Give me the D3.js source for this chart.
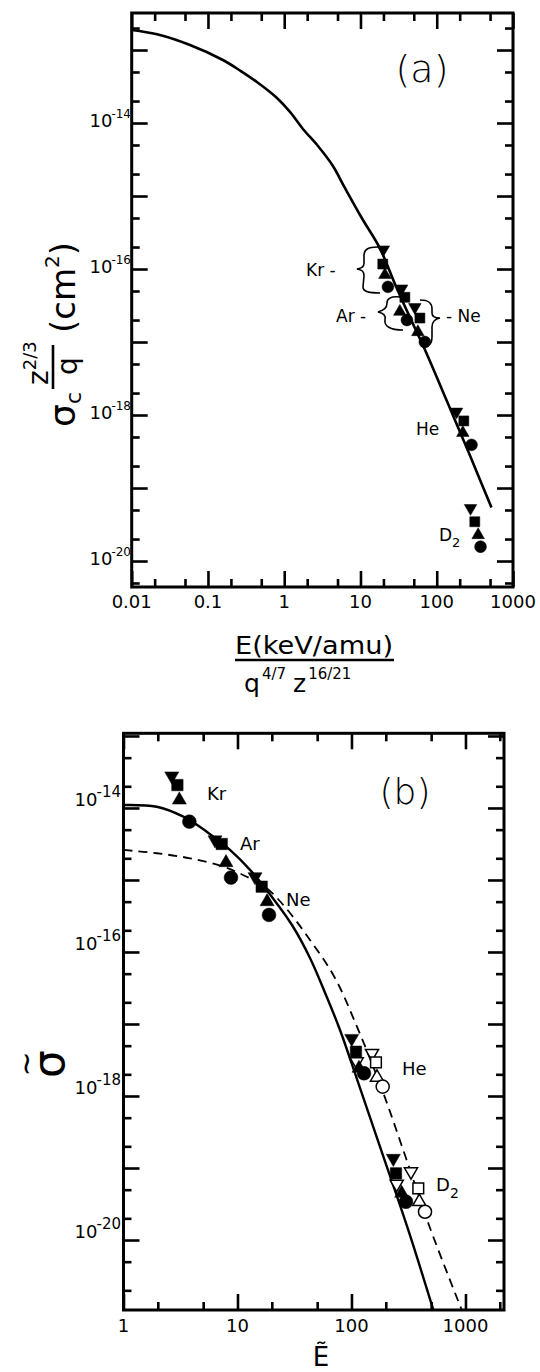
<!DOCTYPE html>
<html>
<head>
<meta charset="utf-8">
<script src="https://cdn.jsdelivr.net/npm/d3@7"></script>
<style>
  body { margin: 0; background: #fff; }
  text { font-family: "DejaVu Sans", sans-serif; fill: #000; }
</style>
</head>
<body>
<script>
//Panel (a): universal curve, reduced energy vs reduced cross section
var aCurveE = [0.01, 0.0215, 0.0581, 0.157, 0.270, 0.438, 0.778, 1.19, 1.76, 2.77, 4.35, 6.25, 10.4, 17.9, 28.2, 44.4, 69.8, 135, 272, 522];
var aCurveS = [1.88e-13, 1.64e-13, 1.17e-13, 7.3e-14, 5.15e-14, 3.65e-14, 2.27e-14, 1.42e-14, 8.28e-15, 4.84e-15, 2.58e-15, 1.29e-15, 5.0e-16, 1.94e-16, 6.3e-17, 2.19e-17, 7.9e-18, 1.58e-18, 2.8e-19, 5.4e-20];

//Panel (a) data points, one value per target gas: Kr, Ar, Ne, He, D2
var species = ["Kr", "Ar", "Ne", "He", "D2"];
var aDownE = [19.95, 34.6, 51.6, 181.6, 277.3];
var aDownS = [1.85e-16, 5.4e-17, 3.0e-17, 1.11e-18, 5.3e-20];
var aSquareE = [19.6, 38.2, 60.1, 226.5, 315.5];
var aSquareS = [1.17e-16, 4.1e-17, 2.13e-17, 8.3e-19, 3.45e-20];
var aUpE = [20.9, 32.8, 56.5, 219.8, 349.1];
var aUpS = [8.3e-17, 2.6e-17, 1.37e-17, 5.7e-19, 2.27e-20];
var aCircleE = [22.9, 40.6, 69.8, 285.8, 375.0];
var aCircleS = [5.7e-17, 2.0e-17, 1.0e-17, 3.9e-19, 1.57e-20];

//Panel (b): two model curves
var bSolidE = [1, 1.954, 3.35, 5.37, 8.59, 12.88, 20.07, 30.08, 43.25, 59.7, 79.3, 114.1, 177.8, 314.8, 522.4];
var bSolidS = [1.10e-14, 1.04e-14, 7.57e-15, 4.69e-15, 2.61e-15, 1.38e-15, 5.81e-16, 2.37e-16, 8.26e-17, 2.53e-17, 8.26e-18, 1.56e-18, 1.98e-19, 1.38e-20, 1.07e-21];
var bDashE = [1, 1.954, 3.83, 7.50, 12.05, 18.03, 26.1, 43.25, 71.6, 114.8, 190.1, 304.8, 488.7, 926.8];
var bDashS = [2.61e-15, 2.35e-15, 2.0e-15, 1.53e-15, 1.11e-15, 7.67e-16, 4.22e-16, 1.47e-16, 4.36e-17, 8.26e-18, 1.10e-18, 1.29e-19, 1.47e-20, 1.07e-21];

//Panel (b) filled points: Kr, Ar, Ne, He, D2
var bDownE = [2.65, 6.35, 14.25, 100.4, 232.8];
var bDownS = [2.78e-14, 3.6e-15, 1.11e-15, 6.3e-18, 1.36e-19];
var bSquareE = [2.97, 7.27, 16.3, 109.5, 245.7];
var bSquareS = [2.08e-14, 3.16e-15, 8.07e-16, 4.12e-18, 8.43e-20];
var bUpE = [3.09, 7.93, 18.2, 116.4, 275.5];
var bUpS = [1.29e-14, 1.74e-15, 5.0e-16, 2.43e-18, 4.46e-20];
var bCircleE = [3.78, 8.77, 18.9, 128.8, 300.7];
var bCircleS = [6.45e-15, 1.08e-15, 3.27e-16, 2.07e-18, 3.4e-20];

//Panel (b) open points: He, D2
var bOpenDownE = [151.4, 332.6, 111.1, 249.3];
var bOpenDownS = [3.92e-18, 8.9e-20, 3.0e-18, 6.0e-20];
var bOpenSquareE = [164, 385.5];
var bOpenSquareS = [2.94e-18, 5.2e-20];
var bOpenUpE = [167.4, 393.5];
var bOpenUpS = [1.81e-18, 3.4e-20];
var bOpenCircleE = [187.8, 441.6];
var bOpenCircleS = [1.35e-18, 2.47e-20];

//Tick labels
var aXTicks = [0.01, 0.1, 1, 10, 100, 1000];
var aXTickLabels = ["0.01", "0.1", "1", "10", "100", "1000"];
var bXTicks = [1, 10, 100, 1000];
var bXTickLabels = ["1", "10", "100", "1000"];
var yLabelExps = [-14, -16, -18, -20];

var width = 540, height = 1372;

const svg = d3.select("body").append("svg")
    .attr("width", width)
    .attr("height", height);

//Scales for panel (a)
const xA = d3.scaleLog().domain([0.01, 1000]).range([131.7, 513]);
const yA = d3.scaleLog().domain([Math.pow(10, -12.493), Math.pow(10, -20.356)]).range([13, 587]);

//Scales for panel (b)
const xB = d3.scaleLog().domain([1, Math.pow(10, 3.338)]).range([123.5, 504]);
const yB = d3.scaleLog().domain([Math.pow(10, -12.963), Math.pow(10, -20.972)]).range([733.3, 1310]);

//Split 1-2-5 ticks into decades and minors
function logTicks(scale) {
    var d = scale.domain(), lo = Math.min(d[0], d[1]), hi = Math.max(d[0], d[1]);
    var major = [], minor = [];
    for (var k = Math.floor(Math.log10(lo)); k <= Math.ceil(Math.log10(hi)); k++) {
        var v = Math.pow(10, k);
        if (v >= lo * 0.999 && v <= hi * 1.001) major.push(v);
        [2, 5].forEach(function(m) {
            var w = m * v;
            if (w > lo * 1.01 && w < hi * 0.99) minor.push(w);
        });
    }
    return {major: major, minor: minor};
}

//Frame with inward ticks on all four sides
function drawFrame(x, y) {
    var x0 = x.range()[0], x1 = x.range()[1], y0 = y.range()[0], y1 = y.range()[1];
    var g = svg.append("g");
    var xt = logTicks(x), yt = logTicks(y);
    var sides = [
        [d3.axisBottom, x, xt, `translate(0,${y1})`],
        [d3.axisTop, x, xt, `translate(0,${y0})`],
        [d3.axisLeft, y, yt, `translate(${x0},0)`],
        [d3.axisRight, y, yt, `translate(${x1},0)`]
    ];
    sides.forEach(function(s) {
        [[s[2].major, 16], [s[2].minor, 8]].forEach(function(t) {
            g.append("g")
                .attr("transform", s[3])
                .call(s[0](s[1]).tickValues(t[0]).tickSize(-t[1]).tickFormat(""))
                .call(a => a.select(".domain").remove())
                .selectAll("line")
                .attr("stroke", "#000")
                .attr("stroke-width", 2.6);
        });
    });
    g.append("rect")
        .attr("x", x0).attr("y", y0)
        .attr("width", x1 - x0).attr("height", y1 - y0)
        .attr("fill", "none").attr("stroke", "#000").attr("stroke-width", 3);
}

//Draw a set of markers
function drawMarkers(g, x, y, es, ss, type, size, open) {
    var sym = type === "circle" ? d3.symbolCircle : type === "square" ? d3.symbolSquare : d3.symbolTriangle;
    g.selectAll(null)
        .data(es.map((e, i) => [e, ss[i]]))
        .enter().append("path")
        .attr("d", d3.symbol().type(sym).size(size))
        .attr("transform", d => `translate(${x(d[0])},${y(d[1])})` + (type === "down" ? " rotate(180)" : ""))
        .attr("fill", open ? "#fff" : "#000")
        .attr("stroke", "#000")
        .attr("stroke-width", open ? 1.5 : 0.5);
}

//Y tick labels written as 10 with a superscript exponent
function yTickLabels(y, xRight, dyBase, supSize, baseSize) {
    yLabelExps.forEach(function(p) {
        var t = svg.append("text")
            .attr("x", xRight).attr("y", y(Math.pow(10, p)) + dyBase)
            .attr("text-anchor", "end");
        t.append("tspan").attr("font-size", baseSize).text("10");
        t.append("tspan").attr("font-size", supSize).attr("dy", -baseSize * 0.5).attr("dx", -1).text("-" + (-p));
    });
}

// ---------------- PANEL (a) ----------------
drawFrame(xA, yA);

svg.append("path")
    .datum(aCurveE.map((e, i) => [e, aCurveS[i]]))
    .attr("fill", "none")
    .attr("stroke", "#000")
    .attr("stroke-width", 2.6)
    .attr("d", d3.line().x(d => xA(d[0])).y(d => yA(d[1])).curve(d3.curveCatmullRom));

const aPts = svg.append("g");
drawMarkers(aPts, xA, yA, aDownE, aDownS, "down", 68, false);
drawMarkers(aPts, xA, yA, aSquareE, aSquareS, "square", 100, false);
drawMarkers(aPts, xA, yA, aUpE, aUpS, "up", 68, false);
drawMarkers(aPts, xA, yA, aCircleE, aCircleS, "circle", 110, false);

//x tick labels (a)
aXTicks.forEach(function(v, i) {
    svg.append("text")
        .attr("x", xA(v)).attr("y", 608)
        .attr("text-anchor", "middle")
        .attr("font-size", 18)
        .text(aXTickLabels[i]);
});
yTickLabels(yA, 131, 4, 12, 18);

//Species labels and braces (a)
svg.append("text").attr("x", 306).attr("y", 276).attr("font-size", 17).text("Kr -");
svg.append("text").attr("x", 336).attr("y", 322).attr("font-size", 17).text("Ar -");
svg.append("text").attr("x", 446).attr("y", 322).attr("font-size", 17).text("- Ne");
svg.append("text").attr("x", 416).attr("y", 435).attr("font-size", 17).text("He");
var d2a = svg.append("text").attr("x", 439).attr("y", 541).attr("font-size", 17);
d2a.append("tspan").text("D");
d2a.append("tspan").attr("font-size", 13).attr("dy", 6).text("2");

var braces = [
    "M378,247 C367,247 364,250 364,256 L364,263 C364,267 362,268 357,269 C362,270 364,271 364,276 L363,287 C363,291 367,293 380,293",
    "M400,297 C390,296 387,299 387,303 C387,308 384,310 378,312 C384,313 386,316 385,320 C384,326 390,330 403,330",
    "M420,300 C430,300 432,304 432,309 L432,313 C432,316 434,318 440,318 C434,319 432,322 432,327 L432,337 C432,342 430,345 427,345"
];
svg.selectAll(null).data(braces).enter().append("path")
    .attr("d", d => d)
    .attr("fill", "none").attr("stroke", "#000").attr("stroke-width", 1.6);

svg.append("text").attr("x", 422).attr("y", 82).attr("text-anchor", "middle")
    .attr("font-size", 38).attr("font-weight", 300).text("(a)");

//x-axis label (a)
svg.append("text").attr("x", 314).attr("y", 654).attr("text-anchor", "middle")
    .attr("font-size", 25).attr("textLength", 158).attr("lengthAdjust", "spacingAndGlyphs")
    .text("E(keV/amu)");
svg.append("line").attr("x1", 235).attr("x2", 394).attr("y1", 660).attr("y2", 660)
    .attr("stroke", "#000").attr("stroke-width", 2.6);
var den = svg.append("text").attr("x", 244).attr("y", 692).attr("font-size", 25);
den.append("tspan").text("q");
den.append("tspan").attr("font-size", 15).attr("dy", -13).attr("dx", 2).text("4/7");
den.append("tspan").attr("dy", 13).attr("dx", 7).text("z");
den.append("tspan").attr("font-size", 15).attr("dy", -13).attr("dx", 2).text("16/21");

//y-axis label (a), rotated
var yl = svg.append("g").attr("transform", "translate(75,427) rotate(-90)");
yl.append("text").attr("x", 0).attr("y", 0).attr("font-size", 36).text("σ");
yl.append("text").attr("x", 23).attr("y", 6).attr("font-size", 22).text("c");
yl.append("line").attr("x1", 38).attr("x2", 82).attr("y1", -22).attr("y2", -22)
    .attr("stroke", "#000").attr("stroke-width", 2.6);
var num = yl.append("text").attr("x", 42).attr("y", -27).attr("font-size", 28);
num.append("tspan").text("z");
num.append("tspan").attr("font-size", 18).attr("dy", -12).text("2/3");
yl.append("text").attr("x", 52).attr("y", 2).attr("font-size", 28).text("q");
var cm = yl.append("text").attr("x", 94).attr("y", 0).attr("font-size", 34);
cm.append("tspan").text("(cm");
cm.append("tspan").attr("font-size", 20).attr("dy", -16).text("2");
cm.append("tspan").attr("dy", 16).text(")");

// ---------------- PANEL (b) ----------------
drawFrame(xB, yB);

svg.append("clipPath").attr("id", "clipB").append("rect")
    .attr("x", 123.5).attr("y", 733.3).attr("width", 504 - 123.5).attr("height", 1310 - 733.3);

const bLines = svg.append("g").attr("clip-path", "url(#clipB)");
bLines.append("path")
    .datum(bSolidE.map((e, i) => [e, bSolidS[i]]))
    .attr("fill", "none").attr("stroke", "#000").attr("stroke-width", 2.4)
    .attr("d", d3.line().x(d => xB(d[0])).y(d => yB(d[1])).curve(d3.curveCatmullRom));
bLines.append("path")
    .datum(bDashE.map((e, i) => [e, bDashS[i]]))
    .attr("fill", "none").attr("stroke", "#000").attr("stroke-width", 1.8)
    .attr("stroke-dasharray", "9,6")
    .attr("d", d3.line().x(d => xB(d[0])).y(d => yB(d[1])).curve(d3.curveCatmullRom));

const bPts = svg.append("g");
drawMarkers(bPts, xB, yB, bOpenDownE, bOpenDownS, "down", 75, true);
drawMarkers(bPts, xB, yB, bOpenSquareE, bOpenSquareS, "square", 115, true);
drawMarkers(bPts, xB, yB, bOpenUpE, bOpenUpS, "up", 75, true);
drawMarkers(bPts, xB, yB, bOpenCircleE, bOpenCircleS, "circle", 135, true);
drawMarkers(bPts, xB, yB, bDownE, bDownS, "down", 85, false);
drawMarkers(bPts, xB, yB, bSquareE, bSquareS, "square", 130, false);
drawMarkers(bPts, xB, yB, bUpE, bUpS, "up", 85, false);
drawMarkers(bPts, xB, yB, bCircleE, bCircleS, "circle", 150, false);

bXTicks.forEach(function(v, i) {
    svg.append("text")
        .attr("x", xB(v)).attr("y", 1332)
        .attr("text-anchor", "middle")
        .attr("font-size", 18)
        .text(bXTickLabels[i]);
});
yTickLabels(yB, 121, -2, 15, 18);

svg.append("text").attr("x", 207).attr("y", 800).attr("font-size", 18).text("Kr");
svg.append("text").attr("x", 240).attr("y", 850).attr("font-size", 18).text("Ar");
svg.append("text").attr("x", 286).attr("y", 906).attr("font-size", 18).text("Ne");
svg.append("text").attr("x", 402).attr("y", 1075).attr("font-size", 18).text("He");
var d2b = svg.append("text").attr("x", 436).attr("y", 1191).attr("font-size", 18);
d2b.append("tspan").text("D");
d2b.append("tspan").attr("font-size", 14).attr("dy", 7).text("2");

svg.append("text").attr("x", 405).attr("y", 804).attr("text-anchor", "middle")
    .attr("font-size", 36).attr("font-weight", 300).text("(b)");

//axis labels (b)
var sl = svg.append("g").attr("transform", "translate(64,1064) rotate(-90)");
sl.append("text").attr("text-anchor", "middle").attr("font-size", 44).text("σ");
sl.append("text").attr("text-anchor", "middle").attr("y", -28).attr("font-size", 30).text("~");
svg.append("text").attr("x", 321).attr("y", 1366).attr("text-anchor", "middle")
    .attr("font-size", 26).text("Ẽ");
</script>
</body>
</html>
